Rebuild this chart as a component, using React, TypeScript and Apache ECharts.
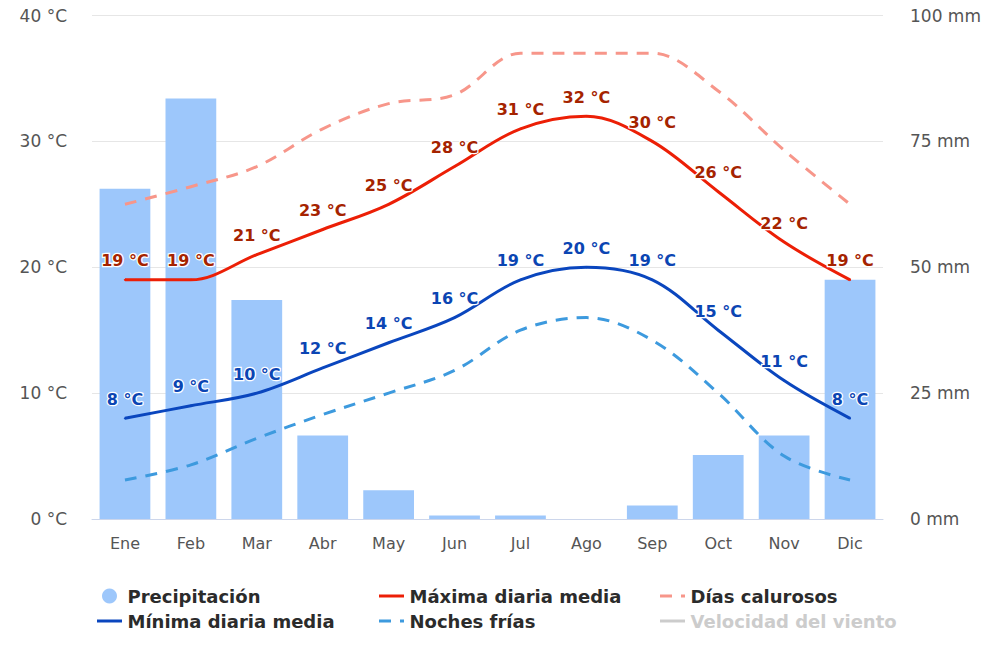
import React, { useEffect, useRef } from "react";
import * as echarts from "echarts";

// Monthly climate figures
const months = ["Ene", "Feb", "Mar", "Abr", "May", "Jun", "Jul", "Ago", "Sep", "Oct", "Nov", "Dic"];
const precipitation = [65.6, 83.5, 43.5, 16.6, 5.7, 0.7, 0.7, 0, 2.7, 12.7, 16.6, 47.5];
const maxDaily = [19, 19, 21, 23, 25, 28, 31, 32, 30, 26, 22, 19];
const minDaily = [8, 9, 10, 12, 14, 16, 19, 20, 19, 15, 11, 8];
const hotDays = [25, 26.4, 28, 31, 33, 33.7, 37, 37, 37, 34, 29.3, 25];
const coldNights = [3.1, 4.3, 6.4, 8.3, 10, 11.8, 15, 16, 14.2, 10, 5, 3.1];
const windSpeed: number[] = [];

const tempTicks = { min: 0, max: 40, interval: 10 };
const rainTicks = { min: 0, max: 100, interval: 25 };

const FONT = "DejaVu Sans";

// Legend glyphs: a solid stroke and a dash-plus-dot stroke
const SOLID_ICON = "path://M0,0h25v3h-25z";
const DASH_ICON = "path://M0,0h12v3h-12z M21,0h4v3h-4z";

export default function App() {
  const ref = useRef<HTMLDivElement>(null);

  useEffect(() => {
    if (!ref.current) return;
    const chart = echarts.init(ref.current, undefined, { renderer: "svg" });

    const labelStyle = (color: string) => ({
      show: true,
      position: "top" as const,
      distance: 10,
      formatter: "{c} °C",
      color,
      fontFamily: FONT,
      fontWeight: "bold" as const,
      fontSize: 16,
      textBorderColor: "#ffffff",
      textBorderWidth: 2.5,
    });

    const legendText = {
      fontFamily: FONT,
      fontWeight: "bold" as const,
      fontSize: 18,
      color: "#2b2b2b",
      lineHeight: 20,
    };

    const legendBase = {
      orient: "vertical" as const,
      itemWidth: 26,
      itemHeight: 3,
      itemGap: 5,
      padding: 0,
      inactiveColor: "#cccccc",
      textStyle: legendText,
      selected: { "Velocidad del viento": false },
    };

    chart.setOption({
      animation: false,
      backgroundColor: "#ffffff",
      grid: { left: 92, right: 117, top: 15.5, bottom: 148, containLabel: false },
      legend: [
        {
          ...legendBase,
          left: 102,
          top: 586,
          itemHeight: 15,
          data: [{ name: "Precipitación", icon: "circle" }],
        },
        {
          ...legendBase,
          left: 97,
          top: 611,
          data: [{ name: "Mínima diaria media", icon: SOLID_ICON }],
        },
        {
          ...legendBase,
          left: 379,
          top: 586,
          data: [
            { name: "Máxima diaria media", icon: SOLID_ICON },
            { name: "Noches frías", icon: DASH_ICON },
          ],
        },
        {
          ...legendBase,
          left: 660,
          top: 586,
          data: [
            { name: "Días calurosos", icon: DASH_ICON },
            { name: "Velocidad del viento", icon: SOLID_ICON },
          ],
        },
      ],
      xAxis: {
        type: "category",
        data: months,
        axisLine: { lineStyle: { color: "#ccd6eb", width: 1 } },
        axisTick: { show: false },
        axisLabel: { color: "#555555", fontFamily: FONT, fontSize: 16, margin: 16 },
      },
      yAxis: [
        {
          type: "value",
          ...tempTicks,
          axisLabel: {
            formatter: "{value} °C",
            color: "#555555",
            fontFamily: FONT,
            fontSize: 17,
            margin: 25,
          },
          axisLine: { show: false },
          axisTick: { show: false },
          splitLine: { lineStyle: { color: "#e6e6e6", width: 1 } },
        },
        {
          type: "value",
          ...rainTicks,
          position: "right",
          axisLabel: {
            formatter: "{value} mm",
            color: "#555555",
            fontFamily: FONT,
            fontSize: 17,
            margin: 27,
          },
          axisLine: { show: false },
          axisTick: { show: false },
          splitLine: { show: false },
        },
      ],
      series: [
        {
          name: "Precipitación",
          type: "bar",
          yAxisIndex: 1,
          data: precipitation,
          barCategoryGap: "23%",
          itemStyle: { color: "#9dc7fb" },
          z: 1,
        },
        {
          name: "Días calurosos",
          type: "line",
          data: hotDays,
          smooth: 0.35,
          symbol: "none",
          lineStyle: { color: "#f7968a", width: 3, type: [12, 9] },
          itemStyle: { color: "#f7968a" },
          z: 2,
        },
        {
          name: "Noches frías",
          type: "line",
          data: coldNights,
          smooth: 0.35,
          symbol: "none",
          lineStyle: { color: "#3d9ade", width: 3, type: [12, 9] },
          itemStyle: { color: "#3d9ade" },
          z: 2,
        },
        {
          name: "Máxima diaria media",
          type: "line",
          data: maxDaily,
          smooth: 0.35,
          symbol: "circle",
          symbolSize: 2,
          lineStyle: { color: "#ec1f06", width: 3 },
          itemStyle: { color: "#ec1f06" },
          label: labelStyle("#a52300"),
          z: 3,
        },
        {
          name: "Mínima diaria media",
          type: "line",
          data: minDaily,
          smooth: 0.35,
          symbol: "circle",
          symbolSize: 2,
          lineStyle: { color: "#0a46be", width: 3 },
          itemStyle: { color: "#0a46be" },
          label: labelStyle("#0b45b3"),
          z: 3,
        },
        {
          name: "Velocidad del viento",
          type: "line",
          data: windSpeed,
          symbol: "none",
          lineStyle: { color: "#cccccc", width: 3 },
          itemStyle: { color: "#cccccc" },
        },
      ],
    });

    return () => chart.dispose();
  }, []);

  return (
    <div
      ref={ref}
      style={{ position: "fixed", left: 0, top: 0, width: 1000, height: 667, background: "#fff" }}
    />
  );
}
